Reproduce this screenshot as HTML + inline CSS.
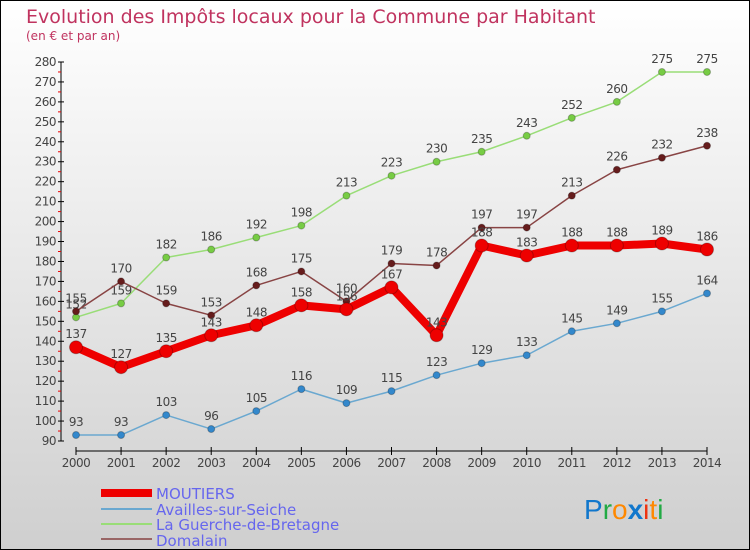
<!DOCTYPE html>
<html><head><meta charset="utf-8"><style>
body{margin:0}
#c{width:748px;height:548px;border:1px solid #000;background:linear-gradient(#ffffff,#cfcfcf);position:relative;overflow:hidden;font-family:"DejaVu Sans","Liberation Sans",sans-serif}
</style></head><body>
<div id="c">
<svg id="s" width="748" height="548" style="position:absolute;left:0;top:0">
<text x="25" y="22" font-size="19" fill="#c0335f">Evolution des Impôts locaux pour la Commune par Habitant</text>
<text x="25" y="39" font-size="12" fill="#c0335f">(en € et par an)</text>
<g id="ax"></g><g id="series"></g>
<g>
<line x1="100" y1="492" x2="151" y2="492" stroke="#ee0000" stroke-width="8"/>
<text x="155" y="498" font-size="15" fill="#6666ee">MOUTIERS</text>
<line x1="100" y1="508" x2="151" y2="508" stroke="#6aa8d0" stroke-width="2"/>
<text x="155" y="514" font-size="15" fill="#6666ee">Availles-sur-Seiche</text>
<line x1="100" y1="523" x2="151" y2="523" stroke="#99dd77" stroke-width="2"/>
<text x="155" y="529" font-size="15" fill="#6666ee">La Guerche-de-Bretagne</text>
<line x1="100" y1="538" x2="151" y2="538" stroke="#996666" stroke-width="2"/>
<text x="155" y="545" font-size="15" fill="#6666ee">Domalain</text>
</g>
<g font-size="28" font-family="Liberation Sans, sans-serif">
<text x="583" y="518"><tspan fill="#1177cc">P</tspan><tspan fill="#22aa44">r</tspan><tspan fill="#ff8800">o</tspan><tspan fill="#1177cc" font-weight="bold">x</tspan><tspan fill="#ee3311">i</tspan><tspan fill="#ff8800">t</tspan><tspan fill="#22aa44">i</tspan></text>
</g>
</svg>
</div>
<script>
const years=[2000,2001,2002,2003,2004,2005,2006,2007,2008,2009,2010,2011,2012,2013,2014];
const yTicks=[90,100,110,120,130,140,150,160,170,180,190,200,210,220,230,240,250,260,270,280];
const moutiers=[137,127,135,143,148,158,156,167,143,188,183,188,188,189,186];
const availles=[93,93,103,96,105,116,109,115,123,129,133,145,149,155,164];
const guerche=[152,159,182,186,192,198,213,223,230,235,243,252,260,275,275];
const domalain=[155,170,159,153,168,175,160,179,178,197,197,213,226,232,238];
const NS="http://www.w3.org/2000/svg";
const X=i=>75+i*(706-75)/(years.length-1);
const Y=v=>440-(v-90)*(440-61)/190;
function mk(t,a,p){const e=document.createElementNS(NS,t);for(const k in a)e.setAttribute(k,a[k]);p.appendChild(e);return e;}
const ax=document.getElementById('ax');
let e=mk('line',{x1:60,y1:Y(280),x2:60,y2:Y(90),stroke:'#000'},ax);


e=mk('line',{x1:X(0),y1:450,x2:X(14),y2:450,stroke:'#000'},ax);


yTicks.forEach((v,i)=>{
 mk('line',{x1:57,y1:Y(v),x2:63,y2:Y(v),stroke:'#000'},ax);
 if(i<yTicks.length-1)mk('line',{x1:57,y1:Y(v+5),x2:60,y2:Y(v+5),stroke:'#e00'},ax);
 const t=mk('text',{x:55,y:Y(v)+4,'font-size':12,fill:'#444','text-anchor':'end','letter-spacing':'-0.5'},ax);
 t.textContent=v;
 
 
});
years.forEach((y,i)=>{
 mk('line',{x1:X(i),y1:446,x2:X(i),y2:454,stroke:'#000'},ax);
 const t=mk('text',{x:X(i),y:466,'font-size':12,fill:'#444','text-anchor':'middle','letter-spacing':'-0.5'},ax);
 t.textContent=y;
 
 
});
const sg=document.getElementById('series');
function series(name,data,col,dot,w,r){
 const g=mk('g',{},sg);
 
 
 const p=mk('polyline',{points:data.map((v,i)=>X(i)+','+Y(v)).join(' '),fill:'none',stroke:col,'stroke-width':w,'stroke-linejoin':'round'},g);
 
 
 data.forEach((v,i)=>{
  const c=mk('circle',{cx:X(i),cy:Y(v),r:r,fill:dot,stroke:'rgba(0,0,0,0.25)'},g);
  
  
  const t=mk('text',{x:X(i),y:Y(v)-9,'font-size':12,fill:'#444','text-anchor':'middle','letter-spacing':'-0.5'},g);
  t.textContent=v;
  
  
 });
}
series('guerche',guerche,'#99dd77','#77cc44',1.5,3.5);
series('domalain',domalain,'#884444','#661c1c',1.5,3.5);
series('availles',availles,'#6aa8d0','#3388cc',1.5,3.5);
series('moutiers',moutiers,'#ee0000','#ee0000',8,6.5);
</script>
</body></html>
